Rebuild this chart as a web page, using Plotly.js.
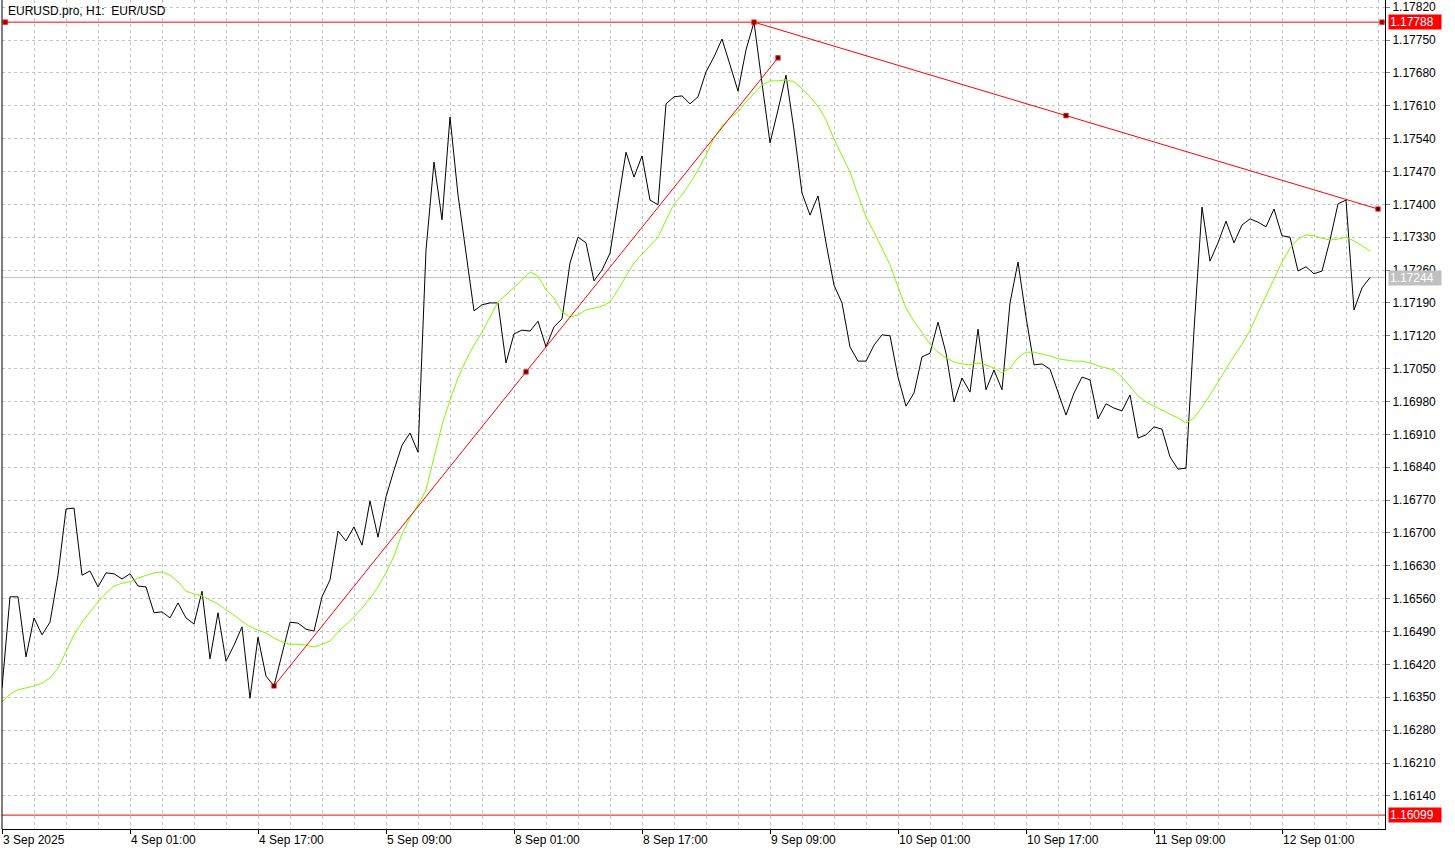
<!DOCTYPE html>
<html><head><meta charset="utf-8">
<script src="https://cdn.plot.ly/plotly-3.0.1.min.js"></script>
<style>html,body{margin:0;padding:0;background:#fff;overflow:hidden}#chart{width:1455px;height:853px}</style>
</head><body><div id="chart"></div>
<script>
// EURUSD H1 closes, one per bar starting 3 Sep 2025 09:00
const closes = [
1.16370,1.16564,1.16564,1.16436,1.16519,1.16483,1.16510,1.16610,1.16751,1.16753,
1.16610,1.16619,1.16585,1.16615,1.16613,1.16602,1.16613,1.16587,1.16585,1.16530,
1.16532,1.16519,1.16551,1.16519,1.16506,1.16576,1.16432,1.16530,1.16427,1.16461,
1.16500,1.16348,1.16478,1.16395,1.16374,1.16444,1.16510,1.16508,1.16495,1.16491,
1.16564,1.16600,1.16704,1.16683,1.16713,1.16674,1.16768,1.16691,1.16777,1.16834,
1.16887,1.16913,1.16872,1.17303,1.17490,1.17367,1.17586,1.17420,1.17292,1.17173,
1.17186,1.17190,1.17190,1.17062,1.17124,1.17132,1.17130,1.17151,1.17096,1.17139,
1.17156,1.17275,1.17330,1.17318,1.17237,1.17260,1.17296,1.17403,1.17511,1.17458,
1.17503,1.17409,1.17399,1.17614,1.17629,1.17631,1.17614,1.17629,1.17682,1.17714,
1.17752,1.17697,1.17641,1.17729,1.17788,1.17658,1.17531,1.17601,1.17675,1.17558,
1.17424,1.17377,1.17418,1.17318,1.17228,1.17190,1.17096,1.17066,1.17066,1.17100,
1.17122,1.17120,1.17032,1.16970,1.16998,1.17075,1.17083,1.17149,1.17083,1.16979,
1.17030,1.17000,1.17134,1.17005,1.17047,1.17005,1.17190,1.17277,1.17160,1.17058,
1.17060,1.17049,1.16998,1.16951,1.16998,1.17032,1.17026,1.16943,1.16975,1.16966,
1.16960,1.16994,1.16902,1.16909,1.16926,1.16921,1.16862,1.16836,1.16838,1.17132,
1.17394,1.17279,1.17318,1.17364,1.17318,1.17356,1.17369,1.17362,1.17352,1.17390,
1.17333,1.17330,1.17258,1.17267,1.17252,1.17258,1.17324,1.17401,1.17409,1.17175,
1.17222,1.17244
];
// moving average (green), one value per bar
const movingAvg = [
1.16340,1.16357,1.16366,1.16370,1.16374,1.16380,1.16391,1.16412,1.16446,1.16483,
1.16510,1.16532,1.16553,1.16572,1.16587,1.16593,1.16596,1.16604,1.16610,1.16615,
1.16617,1.16610,1.16596,1.16576,1.16570,1.16566,1.16557,1.16549,1.16536,1.16525,
1.16512,1.16500,1.16493,1.16487,1.16476,1.16468,1.16463,1.16463,1.16461,1.16457,
1.16463,1.16470,1.16489,1.16504,1.16521,1.16540,1.16561,1.16585,1.16615,1.16651,
1.16698,1.16732,1.16760,1.16792,1.16858,1.16930,1.16983,1.17030,1.17068,1.17100,
1.17128,1.17160,1.17192,1.17207,1.17222,1.17239,1.17256,1.17247,1.17218,1.17200,
1.17171,1.17160,1.17164,1.17175,1.17179,1.17183,1.17192,1.17218,1.17247,1.17275,
1.17294,1.17313,1.17330,1.17366,1.17401,1.17420,1.17445,1.17473,1.17505,1.17541,
1.17567,1.17584,1.17597,1.17618,1.17637,1.17654,1.17663,1.17663,1.17665,1.17661,
1.17646,1.17629,1.17609,1.17580,1.17539,1.17505,1.17469,1.17420,1.17373,1.17341,
1.17307,1.17271,1.17224,1.17179,1.17151,1.17126,1.17102,1.17085,1.17073,1.17064,
1.17060,1.17058,1.17062,1.17058,1.17051,1.17041,1.17051,1.17073,1.17085,1.17085,
1.17081,1.17077,1.17071,1.17068,1.17066,1.17066,1.17062,1.17056,1.17051,1.17047,
1.17032,1.17011,1.16992,1.16979,1.16970,1.16962,1.16953,1.16945,1.16934,1.16945,
1.16968,1.16994,1.17022,1.17049,1.17077,1.17102,1.17132,1.17169,1.17205,1.17241,
1.17277,1.17307,1.17326,1.17335,1.17333,1.17328,1.17324,1.17326,1.17330,1.17322,
1.17311,1.17301
];
const tickBars = [0,16,32,48,64,80,96,112,128,144,160];
const tickLabels = ["3 Sep 2025","4 Sep 01:00","4 Sep 17:00","5 Sep 09:00","8 Sep 01:00","8 Sep 17:00","9 Sep 09:00","10 Sep 01:00","10 Sep 17:00","11 Sep 09:00","12 Sep 01:00"];
const priceTicks = [1.16140,1.16210,1.16280,1.16350,1.16420,1.16490,1.16560,1.16630,1.16700,1.16770,1.16840,1.16910,1.16980,1.17050,1.17120,1.17190,1.17260,1.17330,1.17400,1.17470,1.17540,1.17610,1.17680,1.17750,1.17820];
// trend line objects: start, middle, end
const trendUpBars = [34, 65.5, 97];
const trendUpPrices = [1.16374, 1.17043, 1.17712];
const trendDownBars = [94, 133, 172];
const trendDownPrices = [1.17788, 1.17589, 1.17390];
const hLevels = [1.17788, 1.16099];
const hLevelMarkBars = [0.4, 172.5];
const bidPrice = 1.17244;
const titleText = "EURUSD.pro, H1:  EUR/USD";

const barIdx = closes.map((_, i) => i);
const FONT = "Liberation Sans, Arial, sans-serif";
const gridStyle = {gridcolor: "#c4c4c4", griddash: "3px,3px", gridwidth: 1};

const markerStyle = {symbol: "square", size: 4, color: "#000000", line: {color: "#ff0000", width: 1.2}};
const traces = [
  {x: barIdx, y: closes, type: "scatter", mode: "lines", line: {color: "#000000", width: 1}, hoverinfo: "skip"},
  {x: barIdx, y: movingAvg, type: "scatter", mode: "lines", line: {color: "#7cfc00", width: 1}, hoverinfo: "skip"},
  {x: [trendUpBars[0], trendUpBars[2]], y: [trendUpPrices[0], trendUpPrices[2]], type: "scatter", mode: "lines", line: {color: "#ff0000", width: 1}, hoverinfo: "skip"},
  {x: [trendDownBars[0], trendDownBars[2]], y: [trendDownPrices[0], trendDownPrices[2]], type: "scatter", mode: "lines", line: {color: "#ff0000", width: 1}, hoverinfo: "skip"},
  {x: trendUpBars, y: trendUpPrices, type: "scatter", mode: "markers", marker: markerStyle, hoverinfo: "skip", cliponaxis: false},
  {x: trendDownBars, y: trendDownPrices, type: "scatter", mode: "markers", marker: markerStyle, hoverinfo: "skip", cliponaxis: false},
  {x: hLevelMarkBars, y: hLevelMarkBars.map(() => hLevels[0]), type: "scatter", mode: "markers", marker: markerStyle, hoverinfo: "skip", cliponaxis: false}
];

const shapes = [
  {type: "line", xref: "paper", x0: 0, x1: 1, yref: "y", y0: bidPrice, y1: bidPrice, line: {color: "#c0c0c0", width: 1}, layer: "below"},
  ...hLevels.map(v => ({type: "line", xref: "paper", x0: 0, x1: 1, yref: "y", y0: v, y1: v, line: {color: "#ff0000", width: 1}})),
  {type: "line", xref: "paper", x0: 0, x1: 0, yref: "paper", y0: 0, y1: 1, line: {color: "#000000", width: 1}}
];

function priceBox(v, bg) {
  return {xref: "paper", x: 1, xanchor: "left", xshift: 3, yref: "y", y: v, yanchor: "middle",
    text: v.toFixed(5), showarrow: false, bgcolor: bg, font: {family: FONT, size: 12, color: "#ffffff"},
    width: 50, height: 12, align: "left", borderpad: 1};
}
const annotations = [
  {xref: "paper", x: 0, xanchor: "left", xshift: 4, yref: "paper", y: 1, yanchor: "top", yshift: -2,
   text: titleText, showarrow: false, font: {family: FONT, size: 12, color: "#000000"}},
  priceBox(hLevels[0], "#ff0000"),
  priceBox(hLevels[1], "#ff0000"),
  priceBox(bidPrice, "#c0c0c0")
];

const layout = {
  width: 1455, height: 853,
  margin: {l: 2, r: 70, t: 0, b: 24, pad: 0},
  paper_bgcolor: "#ffffff", plot_bgcolor: "#ffffff",
  showlegend: false, hovermode: false,
  font: {family: FONT, size: 12, color: "#000000"},
  xaxis: Object.assign({
    range: [0, 172.875], tickmode: "array", tickvals: tickBars, ticktext: tickLabels,
    ticks: "outside", ticklen: 4, tickcolor: "#000000", showline: true, linecolor: "#000000", linewidth: 1,
    showgrid: true, zeroline: false, ticklabelposition: "outside right",
    tickfont: {family: FONT, size: 12, color: "#000000"}, fixedrange: true,
    minor: Object.assign({tickmode: "linear", tick0: 0, dtick: 4, showgrid: true, ticks: ""}, gridStyle)
  }, gridStyle),
  yaxis: Object.assign({
    side: "right", range: [1.1606943, 1.178352], tickmode: "array", tickvals: priceTicks, tickformat: ".5f",
    ticks: "outside", ticklen: 4, tickcolor: "#808080", showline: true, linecolor: "#000000", linewidth: 1,
    showgrid: true, zeroline: false, tickfont: {family: FONT, size: 12, color: "#000000"}, fixedrange: true
  }, gridStyle),
  shapes: shapes,
  annotations: annotations
};

Plotly.newPlot("chart", traces, layout, {displayModeBar: false, staticPlot: true});
</script>
</body></html>
